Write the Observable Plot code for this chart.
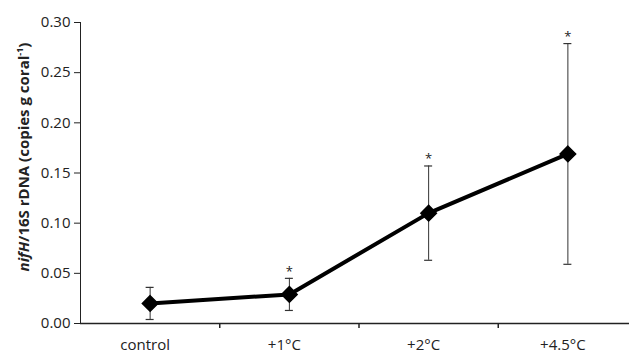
<!DOCTYPE html>
<html><head><meta charset="utf-8">
<script src="https://cdn.jsdelivr.net/npm/d3@7"></script>
<script src="https://cdn.jsdelivr.net/npm/@observablehq/plot@0.6"></script>
<style>body{margin:0;background:#fff}#chart svg{display:block}</style>
</head><body><div id="chart"></div>
<script>
const categories = ["control", "+1°C", "+2°C", "+4.5°C"];
const means = [0.020, 0.029, 0.110, 0.169];
const errors = [0.016, 0.016, 0.047, 0.110];
const significant = [false, true, true, true];
const yTicks = [0, 0.05, 0.10, 0.15, 0.20, 0.25, 0.30];

const data = categories.map((c, i) => ({c, x: i + 0.5, m: means[i], lo: means[i] - errors[i], hi: means[i] + errors[i], sig: significant[i]}));

const font = "Open Sans, Liberation Sans, sans-serif";
const chart = Plot.plot({
  width: 629, height: 353,
  marginLeft: 80, marginRight: -8, marginTop: 22, marginBottom: 30,
  style: {fontFamily: font, fontSize: "15px", color: "#222", background: "#fff", overflow: "visible"},
  x: {domain: [0, 4], axis: null},
  y: {domain: [0, 0.30], axis: null},
  marks: [
    Plot.axisY({ticks: yTicks, tickFormat: d3.format(".2f"), tickSize: 6, tickPadding: 4, label: null, fontSize: 15}),
    Plot.ruleX([0], {y1: 0, y2: 0.30, stroke: "#222"}),
    Plot.ruleY([0], {stroke: "#222", strokeWidth: 1.3}),
    Plot.axisX({ticks: [1, 2, 3], tickSize: 5, tickFormat: () => "", label: null, strokeWidth: 1.5}),
    Plot.axisX({ticks: [0.5, 1.5, 2.5, 3.5], tickSize: 0, tickPadding: 16, dx: -5, tickFormat: v => categories[Math.floor(v)], label: null, fontSize: 15}),
    Plot.ruleX(data, {x: "x", y1: "lo", y2: "hi", stroke: "#333", strokeWidth: 1}),
    Plot.ruleY(data, {y: "lo", x1: "x", x2: "x", insetLeft: -4, insetRight: -4, stroke: "#333", strokeWidth: 1.2}),
    Plot.ruleY(data, {y: "hi", x1: "x", x2: "x", insetLeft: -4, insetRight: -4, stroke: "#333", strokeWidth: 1.2}),
    Plot.line(data, {x: "x", y: "m", stroke: "#000", strokeWidth: 4}),
    Plot.dot(data, {x: "x", y: "m", symbol: "diamond2", r: 7, fill: "#000", stroke: "#000"}),
    Plot.text(data.filter(d => d.sig), {x: "x", y: "hi", text: () => "*", dy: -7, fontSize: 13, fill: "#222"})
  ]
});
document.getElementById("chart").appendChild(chart);

// y-axis title with italic gene name and superscript
const label = d3.select(chart).append("text")
  .attr("transform", "translate(24,157) rotate(-90)")
  .attr("text-anchor", "middle")
  .attr("dy", "0.35em")
  .attr("font-family", font)
  .attr("font-size", 15)
  .attr("font-weight", "bold")
  .attr("fill", "#222");
label.append("tspan").attr("font-style", "italic").text("nifH");
label.append("tspan").text("/16S rDNA (copies g coral");
label.append("tspan").attr("font-size", 9).attr("dy", -6).text("-1");
label.append("tspan").attr("dy", 6).text(")");
</script>
</body></html>
